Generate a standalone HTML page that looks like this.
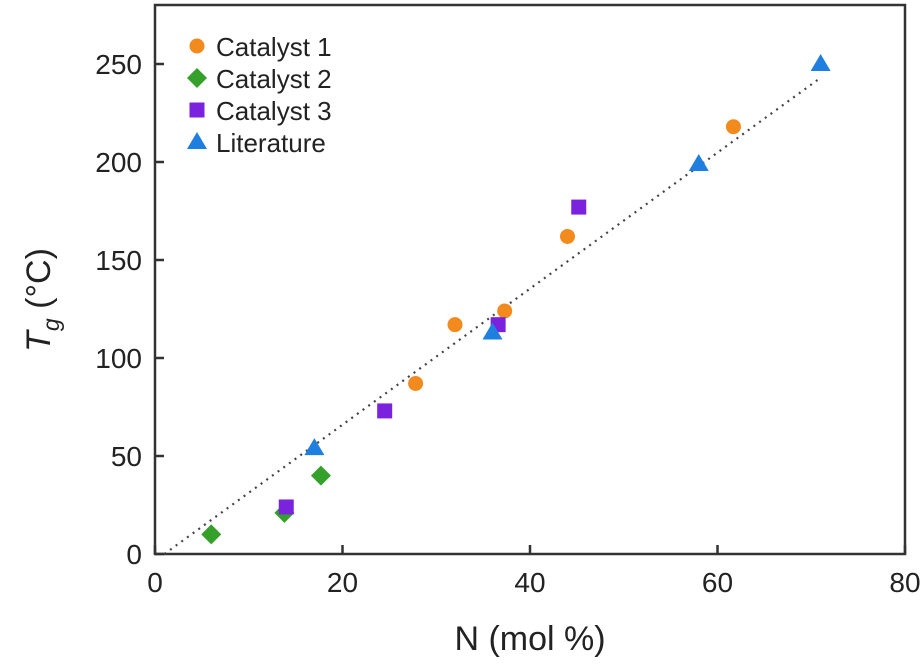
<!DOCTYPE html>
<html><head><meta charset="utf-8"><style>
body{margin:0;background:#fff;}
svg text{font-family:"Liberation Sans",sans-serif;fill:#222;}
</style></head><body>
<svg id="chart" width="923" height="665">
<g id="plot"></g>
</svg>
<script>
const xTicks=[0,20,40,60,80];
const yTicks=[0,50,100,150,200,250];
const cat1X=[27.8,32,37.3,44,61.7];
const cat1Y=[87,117,124,162,218];
const cat2X=[6,13.8,17.7];
const cat2Y=[10,21,40];
const cat3X=[14,24.5,36.6,45.2];
const cat3Y=[24,73,117,177];
const litX=[17,36,58,71];
const litY=[54,113,199,250];
const fitX=[1,71];
const fitY=[0,243];
const seriesNames=["Catalyst 1","Catalyst 2","Catalyst 3","Literature"];

const L=155,R=905,T=5,B=554;
const sx=v=>L+(v-0)/80*(R-L);
const sy=v=>B-(v-0)/250*(B-64);
const ns="http://www.w3.org/2000/svg";
const g=document.getElementById('plot');
function mk(tag,attrs){const e=document.createElementNS(ns,tag);for(const k in attrs)e.setAttribute(k,attrs[k]);g.appendChild(e);return e;}

const frame=mk('rect',{x:L,y:T,width:R-L,height:B-T,fill:'none',stroke:'#333','stroke-width':2.5});



xTicks.forEach(t=>{
  const l=mk('line',{x1:sx(t),x2:sx(t),y1:B,y2:B-9,stroke:'#333','stroke-width':2.5});
  
  
  const tx=mk('text',{x:sx(t),y:B+38,'text-anchor':'middle','font-size':28});
  tx.textContent=t;
  
  
});
yTicks.forEach(t=>{
  const l=mk('line',{x1:L,x2:L+9,y1:sy(t),y2:sy(t),stroke:'#333','stroke-width':2.5});
  
  
  const tx=mk('text',{x:L-13,y:sy(t)+10,'text-anchor':'end','font-size':28});
  tx.textContent=t;
  
  
});

const fit=mk('line',{x1:sx(fitX[0]),y1:sy(fitY[0]),x2:sx(fitX[1]),y2:sy(fitY[1]),stroke:'#444','stroke-width':2.2,'stroke-dasharray':'2 5'});



function marker(type,x,y,color){
  let e;
  if(type==0)e=mk('circle',{cx:x,cy:y,r:7.5,fill:color});
  else if(type==1)e=mk('polygon',{points:`${x},${y-10} ${x+10},${y} ${x},${y+10} ${x-10},${y}`,fill:color});
  else if(type==2)e=mk('rect',{x:x-7.5,y:y-7.5,width:15,height:15,fill:color});
  else e=mk('polygon',{points:`${x},${y-10} ${x+10},${y+7} ${x-10},${y+7}`,fill:color});
  return e;
}
const colors=['#f28a1e','#35a02a','#7a22dd','#1f7fe0'];
const sets=[[cat1X,cat1Y],[cat2X,cat2Y],[cat3X,cat3Y],[litX,litY]];
const names=['catalyst-1-point','catalyst-2-point','catalyst-3-point','literature-point'];
sets.forEach((s,i)=>{
  s[0].forEach((xv,j)=>{
    const m=marker(i,sx(xv),sy(s[1][j]),colors[i]);
    
    
  });
});
seriesNames.forEach((n,i)=>{
  const y=46+i*32;
  const m=marker(i,197,y,colors[i]);
  
  
  const t=mk('text',{x:216,y:y+10,'font-size':26});
  t.textContent=n;
  
  
});

const xt=mk('text',{x:530,y:650,'text-anchor':'middle','font-size':34});
xt.textContent='N (mol %)';



const yt=mk('text',{transform:'translate(50,300) rotate(-90)','text-anchor':'middle','font-size':34});
yt.innerHTML='<tspan font-style="italic">T</tspan><tspan font-style="italic" font-size="23" dy="9">g</tspan><tspan dy="-9"> (°C)</tspan>';


</script>
</body></html>
